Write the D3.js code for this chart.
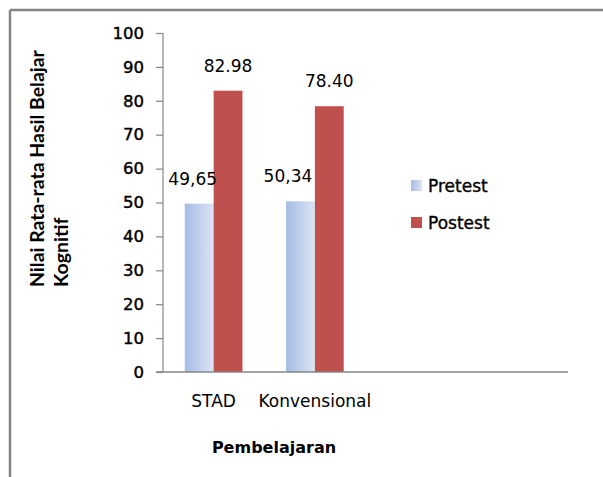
<!DOCTYPE html>
<html>
<head>
<meta charset="utf-8">
<script src="https://cdn.jsdelivr.net/npm/d3@7"></script>
<style>
  html, body { margin: 0; padding: 0; background: #fff; }
  svg { display: block; }
</style>
</head>
<body>
<svg id="chart" width="603" height="477"></svg>
<script>
const categories = ["STAD", "Konvensional"];
const seriesNames = ["Pretest", "Postest"];
const pretest = [49.65, 50.34];
const postest = [82.98, 78.40];
const pretestLabels = ["49,65", "50,34"];
const postestLabels = ["82.98", "78.40"];
const yTicks = [0, 10, 20, 30, 40, 50, 60, 70, 80, 90, 100];
const yTitleLines = ["Nilai Rata-rata Hasil Belajar", "Kognitif"];
const xTitle = "Pembelajaran";

const svg = d3.select("#chart");
const W = 603, H = 477;
const plot = { left: 163, right: 568, top: 33, bottom: 372 };
const slotCount = 4; // Excel plot area reserves room beyond the two categories
const step = (plot.right - plot.left) / slotCount;

const defs = svg.append("defs");
const grad = defs.append("linearGradient").attr("id", "gPre")
  .attr("x1", "0%").attr("x2", "100%").attr("y1", "0%").attr("y2", "0%");
grad.append("stop").attr("offset", "0%").attr("stop-color", "#a5bce6");
grad.append("stop").attr("offset", "100%").attr("stop-color", "#dbe4f3");

const colors = { Pretest: "url(#gPre)", Postest: "#c0504d" };

// chart frame border (top + left visible)
svg.append("line").attr("x1", 10).attr("x2", W).attr("y1", 10).attr("y2", 10)
  .attr("stroke", "#858585").attr("stroke-width", 2.5);
svg.append("line").attr("x1", 10).attr("x2", 10).attr("y1", 10).attr("y2", H)
  .attr("stroke", "#858585").attr("stroke-width", 2.5);

const y = d3.scaleLinear().domain([0, 100]).range([plot.bottom, plot.top]);
const x = d3.scaleBand().domain(categories)
  .range([plot.left, plot.left + step * categories.length])
  .paddingInner(0.43).paddingOuter(0.215);
const xs = d3.scaleBand().domain(seriesNames).range([0, x.bandwidth()]);

// y axis
const yAxis = svg.append("g").attr("transform", `translate(${plot.left},0)`)
  .call(d3.axisLeft(y).tickValues(yTicks).tickSize(7).tickPadding(12).tickFormat(d3.format("d")));
yAxis.select(".domain").attr("stroke", "#868686").attr("stroke-width", 1.2)
  .attr("d", `M0,${plot.top}V${plot.bottom}`);
yAxis.selectAll(".tick line").attr("stroke", "#868686").attr("stroke-width", 1.2);
yAxis.selectAll(".tick text").attr("fill", "#000").attr("stroke", "#000").attr("stroke-width", 0.45)
  .style("font-family", "DejaVu Sans").style("font-size", "16.5px");

// bars
const seriesData = [
  { name: "Pretest", values: pretest, labels: pretestLabels, dx: [-6.5, -12.5] },
  { name: "Postest", values: postest, labels: postestLabels, dx: [0, 0] }
];
seriesData.forEach(s => {
  svg.append("g").selectAll("rect").data(categories).join("rect")
    .attr("x", (c) => x(c) + xs(s.name))
    .attr("width", xs.bandwidth())
    .attr("y", (c, i) => y(s.values[i]))
    .attr("height", (c, i) => y(0) - y(s.values[i]))
    .attr("fill", colors[s.name]);
});

// x axis line
svg.append("line").attr("x1", plot.left - 7).attr("x2", plot.right)
  .attr("y1", plot.bottom).attr("y2", plot.bottom)
  .attr("stroke", "#868686").attr("stroke-width", 1.5);

// data labels
seriesData.forEach(s => {
  svg.append("g").selectAll("text").data(categories).join("text")
    .attr("x", (c, i) => x(c) + xs(s.name) + xs.bandwidth() / 2 + s.dx[i])
    .attr("y", (c, i) => y(s.values[i]) - 19)
    .attr("text-anchor", "middle")
    .style("font-family", "DejaVu Sans").style("font-size", "17px")
    .attr("fill", "#000")
    .text((c, i) => s.labels[i]);
});

// category labels
svg.append("g").selectAll("text").data(categories).join("text")
  .attr("x", c => x(c) + x.bandwidth() / 2)
  .attr("y", 407)
  .attr("text-anchor", "middle")
  .style("font-family", "DejaVu Sans").style("font-size", "17px")
  .text(c => c);

// x title
svg.append("text")
  .attr("x", 274)
  .attr("y", 453)
  .attr("text-anchor", "middle")
  .style("font-family", "DejaVu Sans").style("font-size", "16px").style("font-weight", "bold")
  .text(xTitle);

// y title (fit first line to the reference span)
const yt = svg.append("text")
  .attr("transform", "translate(44,287) rotate(-90)")
  .style("font-family", "Lato").style("font-size", "18px").style("font-weight", "bold");
yTitleLines.forEach((line, i) => {
  yt.append("tspan").attr("x", 0).attr("dy", i === 0 ? 0 : 24).text(line);
});
const firstLen = yt.select("tspan").node().getComputedTextLength();
if (firstLen > 0) yt.style("font-size", (18 * 237 / firstLen).toFixed(2) + "px");

// legend
const legend = svg.append("g");
seriesNames.forEach((name, i) => {
  const ly = 192 + i * 37;
  legend.append("rect").attr("x", 411).attr("y", ly - 12).attr("width", 11).attr("height", 11)
    .attr("fill", colors[name]);
  legend.append("text").attr("x", 428).attr("y", ly)
    .attr("stroke", "#000").attr("stroke-width", 0.35)
    .style("font-family", "DejaVu Sans").style("font-size", "17px")
    .text(name);
});
</script>
</body>
</html>
